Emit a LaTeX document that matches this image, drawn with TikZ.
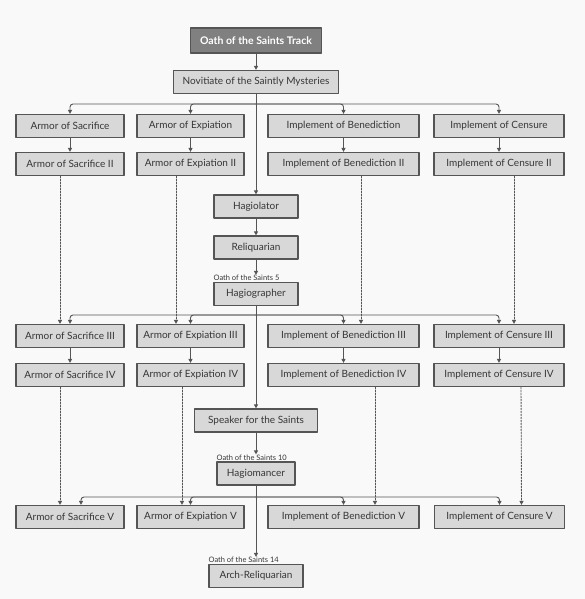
\documentclass[tikz,border=0pt]{standalone}
\usepackage{fontspec}
\setmainfont{Lato}
\usetikzlibrary{arrows.meta}

\definecolor{paper}{HTML}{F9F9F9}
\definecolor{boxfill}{HTML}{D8D8D8}
\definecolor{boxline}{HTML}{555555}
\definecolor{headfill}{HTML}{808080}
\definecolor{ink}{HTML}{363636}

\begin{document}
\begin{tikzpicture}[
			x=1pt, y=-1pt,
			line cap=round,
			line join=round,
			talent/.style={draw=boxline, fill=boxfill, line width=1.2pt, text=ink,
				minimum height=23pt, inner sep=0pt, font=\fontsize{10}{12}\selectfont},
			track/.style={talent, fill=headfill, text=white, minimum height=25pt,
				font=\fontsize{10.5}{12}\selectfont\bfseries},
			oath/.style={anchor=south west, inner sep=0pt, yshift=1pt, text=ink,
				font=\fontsize{7.5}{8}\selectfont},
			link/.style={draw=boxline, line width=0.9pt, -{Triangle[length=4pt,width=4pt]}},
			branch/.style={link, rounded corners=3pt},
			hint/.style={link, dash pattern=on 1.5pt off 1.5pt}
			]
			% Page
			\fill[paper] (0,0) rectangle (585,599);
			
			% Main track down the middle
			\node[track, minimum width=131pt] (track) at (256,40.5) {Oath of the Saints Track};
			\node[talent, minimum width=165pt] (novice) at (256,82) {Novitiate of the Saintly Mysteries};
			\node[talent, minimum width=84pt] (hagiolator) at (256,206.5) {Hagiolator};
			\node[talent, minimum width=84pt] (reliquarian) at (256,247.5) {Reliquarian};
			\node[talent, minimum width=84pt] (hagiographer) at (256,294) {Hagiographer};
			\node[talent, minimum width=123pt] (speaker) at (256,420.5) {Speaker for the Saints};
			\node[talent, minimum width=78pt] (hagiomancer) at (256,473.5) {Hagiomancer};
			\node[talent, minimum width=94pt] (archrel) at (256,576) {Arch-Reliquarian};
			
			% Level notes above the boxes
			\node[oath] (oath5) at (hagiographer.north west) {Oath of the Saints 5};
			\node[oath] (oath10) at (hagiomancer.north west) {Oath of the Saints 10};
			\node[oath] (oath14) at (archrel.north west) {Oath of the Saints 14};
			
			% Side columns: sacrifice, expiation, benediction, censure
			\node[talent, minimum width=108pt] (sac1) at (70,126) {Armor of Sacrifice};
			\node[talent, minimum width=107pt] (exp1) at (190.5,126) {Armor of Expiation};
			\node[talent, minimum width=151pt] (ben1) at (343.5,126) {Implement of Benediction};
			\node[talent, minimum width=130pt] (cen1) at (499,126) {Implement of Censure};
			
			\node[talent, minimum width=108pt] (sac2) at (70,164) {Armor of Sacrifice II};
			\node[talent, minimum width=107pt] (exp2) at (190.5,164) {Armor of Expiation II};
			\node[talent, minimum width=151pt] (ben2) at (343.5,164) {Implement of Benediction II};
			\node[talent, minimum width=130pt] (cen2) at (499,164) {Implement of Censure II};
			
			\node[talent, minimum width=108pt] (sac3) at (70,336) {Armor of Sacrifice III};
			\node[talent, minimum width=107pt] (exp3) at (190.5,336) {Armor of Expiation III};
			\node[talent, minimum width=151pt] (ben3) at (343.5,336) {Implement of Benediction III};
			\node[talent, minimum width=130pt] (cen3) at (499,336) {Implement of Censure III};
			
			\node[talent, minimum width=108pt] (sac4) at (70,375) {Armor of Sacrifice IV};
			\node[talent, minimum width=107pt] (exp4) at (190.5,375) {Armor of Expiation IV};
			\node[talent, minimum width=151pt] (ben4) at (343.5,375) {Implement of Benediction IV};
			\node[talent, minimum width=130pt] (cen4) at (499,375) {Implement of Censure IV};
			
			\node[talent, minimum width=108pt] (sac5) at (70,517) {Armor of Sacrifice V};
			\node[talent, minimum width=107pt] (exp5) at (190.5,517) {Armor of Expiation V};
			\node[talent, minimum width=151pt] (ben5) at (343.5,517) {Implement of Benediction V};
			\node[talent, minimum width=130pt] (cen5) at (499.5,517) {Implement of Censure V};
			
			% Forks on the main line
			\coordinate (fork1) at (256,104);
			\coordinate (fork2) at (256,315);
			\coordinate (fork3) at (256,497);
			
			% Main line
			\draw[link] (track) -- (novice);
			\draw[link] (novice) -- (hagiolator);
			\draw[link] (hagiolator) -- (reliquarian);
			\draw[link] (reliquarian.south) -- (reliquarian.south |- oath5.north);
			\draw[link] (hagiographer) -- (speaker);
			\draw[link] (speaker.south) -- (speaker.south |- oath10.north);
			\draw[link] (hagiomancer.south) -- (hagiomancer.south |- oath14.north);
			
			% Branches out of the forks
			\foreach \t in {sac1,exp1,ben1,cen1}
			\draw[branch] (fork1) -| (\t.north);
			\foreach \t in {sac3,exp3,ben3,cen3}
			\draw[branch] (fork2) -| (\t.north);
			\draw[branch] (fork3) -| ([xshift=11pt]sac5.north);
			\foreach \t in {exp5,ben5,cen5}
			\draw[branch] (fork3) -| (\t.north);
			
			% Steps inside each column
			\foreach \c in {sac,exp,ben,cen}
			{
				\draw[link] (\c1) -- (\c2);
				\draw[link] (\c3) -- (\c4);
			}
			
			% Dotted prerequisites
			\foreach \c/\a/\b in {sac/-10/-10, exp/-14.5/-8.5, ben/17.5/31.5, cen/15/22}
			{
				\draw[hint] ([xshift=\a pt]\c2.south) -- ([xshift=\a pt]\c3.north);
				\draw[hint] ([xshift=\b pt]\c4.south) -- ([xshift=\b pt]\c5.north);
			}
		\end{tikzpicture}
\end{document}
